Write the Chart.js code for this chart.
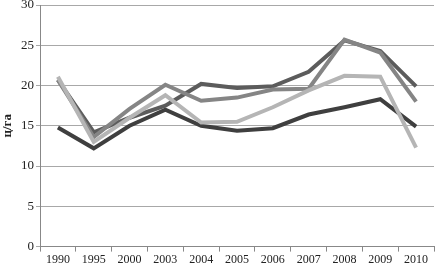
<!DOCTYPE html>
<html><head><meta charset="utf-8">
<script src="https://cdn.jsdelivr.net/npm/chart.js@4/dist/chart.umd.min.js"></script>
<style>html,body{margin:0;padding:0;background:#fff}#w{width:436px;height:268px}</style>
</head><body><div id="w"><canvas id="c"></canvas></div>
<script>
const categories = ["1990","1995","2000","2003","2004","2005","2006","2007","2008","2009","2010"];
const seriesDarkest = [14.8,12.2,15.0,17.0,15.0,14.4,14.7,16.4,17.3,18.3,14.9];
const seriesDark    = [20.7,14.2,16.0,17.5,20.2,19.7,19.9,21.7,25.6,24.3,19.9];
const seriesMedium  = [20.7,13.6,17.1,20.1,18.1,18.5,19.5,19.6,25.7,24.1,18.0];
const seriesLight   = [21.1,13.0,16.0,18.8,15.4,15.5,17.3,19.4,21.2,21.1,12.3];
const yTicks = [0,5,10,15,20,25,30];
const yTitle = "ц/га";

const mk = (d,c)=>({data:d,borderColor:c,backgroundColor:c,borderWidth:4,pointRadius:0,tension:0,fill:false,borderJoinStyle:'miter'});
new Chart(document.getElementById('c'),{
  type:'line',
  data:{labels:categories,datasets:[
    mk(seriesLight,'#b5b5b5'),
    mk(seriesMedium,'#858585'),
    mk(seriesDark,'#5c5c5c'),
    mk(seriesDarkest,'#3f3f3f')
  ]},
  options:{
    responsive:true,maintainAspectRatio:false,animation:false,
    layout:{padding:{top:0,right:2,left:0,bottom:0}},
    plugins:{legend:{display:false},tooltip:{enabled:false}},
    scales:{
      x:{offset:true,
        grid:{offset:true,drawOnChartArea:false,drawTicks:true,tickLength:5,color:'#888'},
        border:{color:'#888'},
        ticks:{color:'#222',font:{family:'Liberation Serif',size:12},maxRotation:0,autoSkip:false,padding:1}},
      y:{min:0,max:30,
        afterBuildTicks:(s)=>{s.ticks=yTicks.map(v=>({value:v}));},
        afterFit:(s)=>{s.width=40;s.paddingTop=5;},
        grid:{color:'#a8a8a8',tickLength:4},
        border:{color:'#888'},
        ticks:{color:'#222',font:{family:'Liberation Serif',size:13},padding:2},
        title:{display:true,text:yTitle,color:'#222',font:{family:'Liberation Serif',size:13,weight:'bold'},padding:0}}
    }
  }
});
</script></body></html>
